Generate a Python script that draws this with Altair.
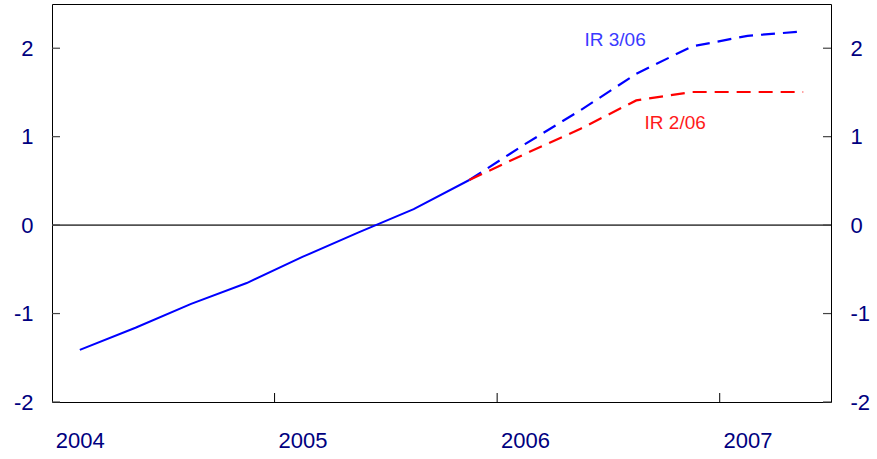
import altair as alt
import pandas as pd

# ---- data ----
hist_quarters = ["2004Q1", "2004Q2", "2004Q3", "2004Q4",
                 "2005Q1", "2005Q2", "2005Q3", "2005Q4"]
hist_values = [-1.41, -1.16, -0.89, -0.655, -0.36, -0.085, 0.18, 0.51]

fc_quarters = ["2005Q4", "2006Q1", "2006Q2", "2006Q3", "2006Q4", "2007Q1", "2007Q2"]
ir306_values = [0.51, 0.915, 1.30, 1.71, 2.02, 2.14, 2.19]
ir206_values = [0.51, 0.805, 1.09, 1.41, 1.505, 1.505, 1.505]

year_ticks = [2005, 2006, 2007]
year_labels = [2004, 2005, 2006, 2007]
y_ticks = [-2, -1, 0, 1, 2]

ann_text = ["IR 3/06", "IR 2/06"]
ann_series = ["IR 3/06", "IR 2/06"]
ann_x = [2006.53, 2006.80]
ann_y = [2.09, 1.155]


def qpos(q):
    y, n = q.split("Q")
    return int(y) + (int(n) - 0.5) / 4


hist = pd.DataFrame({"t": [qpos(q) for q in hist_quarters], "v": hist_values})
fc = pd.concat([
    pd.DataFrame({"t": [qpos(q) for q in fc_quarters], "v": ir306_values, "s": "IR 3/06"}),
    pd.DataFrame({"t": [qpos(q) for q in fc_quarters], "v": ir206_values, "s": "IR 2/06"}),
])
ann = pd.DataFrame({"text": ann_text, "s": ann_series, "t": ann_x, "v": ann_y})

W, H = 779, 398
FONT = "Liberation Sans"
NAVY = "#000080"
FS = 22

xscale = alt.Scale(domain=[2004, 2007.5], nice=False)
yscale = alt.Scale(domain=[-2, 2.5], nice=False)
colscale = alt.Scale(domain=["IR 3/06", "IR 2/06"], range=["#0000ff", "#ff0000"])

xaxis = alt.Axis(values=[y + 0.125 for y in year_labels],
                 labelExpr="toString(floor(datum.value))",
                 ticks=False, domain=False, grid=False, title=None,
                 labelFont=FONT, labelFontSize=FS, labelColor=NAVY,
                 labelPadding=45, labelBaseline="alphabetic")

ylab = "datum.value < 0 ? '-' + toString(abs(datum.value)) : toString(datum.value)"
yaxis_left = alt.Axis(values=y_ticks, orient="left", ticks=False, domain=False,
                      grid=False, title=None, labelFont=FONT, labelFontSize=FS,
                      labelColor=NAVY, labelPadding=19, labelExpr=ylab)
yaxis_right = alt.Axis(values=y_ticks, orient="right", ticks=False, domain=False,
                       grid=False, title=None, labelFont=FONT, labelFontSize=FS,
                       labelColor=NAVY, labelPadding=19, labelExpr=ylab)

X = alt.X("t:Q", scale=xscale, axis=xaxis)

zero = alt.Chart(pd.DataFrame({"v": [0]})).mark_rule(color="#333333", strokeWidth=1).encode(
    y=alt.Y("v:Q", scale=yscale, axis=yaxis_left)
)

zero_r = alt.Chart(pd.DataFrame({"v": [0]})).mark_rule(color="#333333", strokeWidth=1).encode(
    y=alt.Y("v:Q", scale=yscale, axis=yaxis_right)
)

hist_line = alt.Chart(hist).mark_line(color="#0000ff", strokeWidth=2).encode(
    x=X,
    y=alt.Y("v:Q", scale=yscale, axis=None),
)

fc_line = alt.Chart(fc).mark_line(strokeWidth=2.2, strokeDash=[14, 8]).encode(
    x=X,
    y=alt.Y("v:Q", scale=yscale, axis=None),
    color=alt.Color("s:N", scale=colscale, legend=None),
    detail="s:N",
)

labels = alt.Chart(ann).mark_text(font=FONT, fontSize=19, align="center", baseline="middle").encode(
    x=X,
    y=alt.Y("v:Q", scale=yscale, axis=None),
    text="text:N",
    color=alt.Color("s:N", scale=alt.Scale(domain=["IR 3/06", "IR 2/06"],
                                           range=["#3a3aff", "#ff1a1a"]), legend=None),
)

xt = alt.Chart(pd.DataFrame({"t": year_ticks})).mark_rule(color="black", strokeWidth=1).encode(
    x=X,
    y=alt.value(H - 9), y2=alt.value(H),
)

yt_left = alt.Chart(pd.DataFrame({"v": y_ticks})).mark_rule(color="#444444", strokeWidth=1.2).encode(
    y=alt.Y("v:Q", scale=yscale, axis=None),
    x=alt.value(0), x2=alt.value(8),
)
yt_right = alt.Chart(pd.DataFrame({"v": y_ticks})).mark_rule(color="#444444", strokeWidth=1.2).encode(
    y=alt.Y("v:Q", scale=yscale, axis=None),
    x=alt.value(W - 8), x2=alt.value(W),
)

chart = alt.layer(zero, zero_r, hist_line, fc_line, labels, xt, yt_left, yt_right).resolve_scale(
    y="independent", color="independent"
).properties(
    width=W, height=H,
    autosize=alt.AutoSizeParams(type="none"),
    padding={"left": 52, "top": 4, "right": 46, "bottom": 57},
    background="white",
).configure_view(
    stroke="black", strokeWidth=1
)

chart.save("out.html", embed_options={"renderer": "svg", "actions": False})
